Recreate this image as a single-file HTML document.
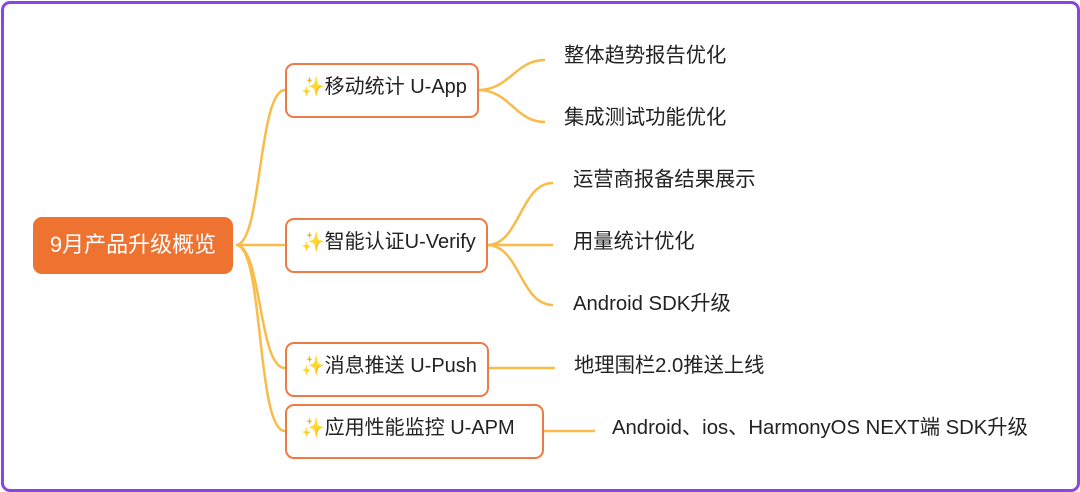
<!DOCTYPE html>
<html><head><meta charset="utf-8"><style>
body{margin:0;width:1080px;height:491px;background:#fff;overflow:hidden;font-family:"Liberation Sans","Noto Sans CJK SC",sans-serif;}
.frame{position:absolute;left:1px;top:1px;width:1073px;height:485px;border:3px solid #8b45e0;border-radius:9px;}
.n{position:absolute;box-sizing:border-box;border:2px solid #ee7a45;border-radius:9px;background:#fff;font-size:20px;color:#222;line-height:45px;padding-left:14px;white-space:nowrap;}
.root{position:absolute;left:33px;top:217px;width:200px;height:57px;background:#ee7330;border-radius:9px;color:#fff;font-size:22px;line-height:55px;text-align:center;}
.t{position:absolute;font-size:20.3px;color:#222;white-space:nowrap;line-height:24px;}
.s{color:#f5c030;font-size:19px;}
</style></head><body>
<div class="frame"></div>
<svg width="1080" height="491" style="position:absolute;left:0;top:0" fill="none" stroke="#f9bb4a" stroke-width="2.5">
<path d="M236 245 C262 245 258 90 285 90"/>
<path d="M236 245 L285 245"/>
<path d="M236 245 C262 245 258 368 285 368"/>
<path d="M236 245 C264 245 256 431 285 431"/>
<path d="M478 90 C510 90 515 60 545 60"/>
<path d="M478 90 C510 90 515 122 545 122"/>
<path d="M487 245 C520 245 520 183 553 183"/>
<path d="M487 245 L553 245"/>
<path d="M487 245 C520 245 520 305 553 305"/>
<path d="M488 368 L555 368"/>
<path d="M543 431 L595 431"/>
</svg>
<div class="root">9月产品升级概览</div>
<div class="n" style="left:285px;top:63px;width:194px;height:55px"><span class="s">✨</span>移动统计 U-App</div>
<div class="n" style="left:285px;top:218px;width:203px;height:55px"><span class="s">✨</span>智能认证U-Verify</div>
<div class="n" style="left:285px;top:342px;width:204px;height:55px"><span class="s">✨</span>消息推送 U-Push</div>
<div class="n" style="left:285px;top:404px;width:259px;height:55px"><span class="s">✨</span>应用性能监控 U-APM</div>
<div class="t" style="left:564px;top:44px">整体趋势报告优化</div>
<div class="t" style="left:564px;top:106px">集成测试功能优化</div>
<div class="t" style="left:573px;top:168px">运营商报备结果展示</div>
<div class="t" style="left:573px;top:230px">用量统计优化</div>
<div class="t" style="left:573px;top:292px">Android SDK升级</div>
<div class="t" style="left:574px;top:354px">地理围栏2.0推送上线</div>
<div class="t" style="left:612px;top:416px">Android、ios、HarmonyOS NEXT端 SDK升级</div>
</body></html>
